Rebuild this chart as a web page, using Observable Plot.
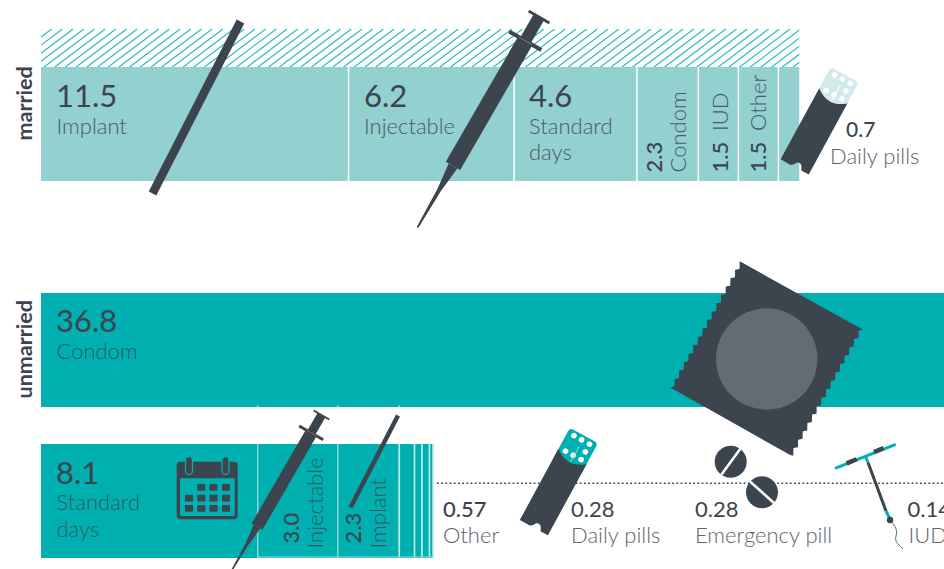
<!DOCTYPE html>
<html>
<head>
<meta charset="utf-8">
<style>html,body{margin:0;padding:0;background:#fff;overflow:hidden}svg{display:block;font-family:Lato,sans-serif}</style>
<script src="https://cdn.jsdelivr.net/npm/d3@7"></script>
<script src="https://cdn.jsdelivr.net/npm/@observablehq/plot@0.6"></script>
</head>
<body>
<div id="chart"></div>
<script>
// ---- data ----
const marriedMethods = ["Implant", "Injectable", "Standard days", "Condom", "IUD", "Other", "Daily pills"];
const marriedValues = [11.5, 6.2, 4.6, 2.3, 1.5, 1.5, 0.7];
const marriedLabels = ["11.5", "6.2", "4.6", "2.3", "1.5", "1.5", "0.7"];
const marriedTotal = 28.4;
const unmarriedMethods = ["Standard days", "Injectable", "Implant", "Other", "Daily pills", "Emergency pill", "IUD"];
const unmarriedValues = [8.1, 3.0, 2.3, 0.57, 0.28, 0.28, 0.14];
const unmarriedLabels = ["8.1", "3.0", "2.3", "0.57", "0.28", "0.28", "0.14"];
const condomValue = 36.8;

// ---- layout & style ----
const W = 944, H = 569, left = 41, pxPerUnit = 26.7;
const DARK = "#3c444e", PALE = "#93d0d0", TEAL = "#00afb0", HATCH = "#1fbabb";
const X = p => (p - left) / pxPerUnit;
const ROW = {hatch: [29, 67], married: [67, 181], condom: [293, 407], unmarried: [444, 558]};

function segments(methods, values, row) {
  let c = 0;
  return methods.map((m, i) => ({method: m, x1: c, x2: (c += values[i]), y1: ROW[row][0], y2: ROW[row][1]}));
}
const mSeg = segments(marriedMethods, marriedValues, "married");
const uSeg = segments(unmarriedMethods, unmarriedValues, "unmarried");

// text placement, values come from the arrays above
const bigNumbers = [
  {t: marriedLabels[0], x: 55.5, y: 106}, {t: marriedLabels[1], x: 363.5, y: 106}, {t: marriedLabels[2], x: 528.5, y: 106},
  {t: String(condomValue), x: 55.5, y: 331}, {t: unmarriedLabels[0], x: 55.5, y: 483}
];
const paleNames = [
  {t: "Implant", x: 56, y: 133}, {t: "Injectable", x: 363.5, y: 133}, {t: "Standard", x: 528.5, y: 133}, {t: "days", x: 528.5, y: 159.5}
];
const tealNames = [
  {t: "Condom", x: 56, y: 358}, {t: "Standard", x: 56, y: 509}, {t: "days", x: 56, y: 536}
];
const sideNumbersPale = [
  {t: marriedLabels[3], x: 661.5, y: 172}, {t: marriedLabels[4], x: 727.5, y: 172}, {t: marriedLabels[5], x: 765.5, y: 172}
];
const sideNamesPale = [
  {t: "Condom", x: 685, y: 172}, {t: "IUD", x: 727.5, y: 130.5}, {t: "Other", x: 765.5, y: 130.5}
];
const sideNumbersTeal = [{t: unmarriedLabels[1], x: 298.5, y: 543}, {t: unmarriedLabels[2], x: 360.5, y: 543}];
const sideNamesTeal = [{t: "Injectable", x: 322.5, y: 548}, {t: "Implant", x: 385, y: 548}];
const outNumbersStrong = [{t: unmarriedLabels[3], x: 442.5, y: 516}];
const outNumbers = [
  {t: unmarriedLabels[4], x: 570.5, y: 516},
  {t: unmarriedLabels[5], x: 694.5, y: 516}, {t: unmarriedLabels[6], x: 907, y: 516}
];
const outNames = [
  {t: marriedMethods[6], x: 829.5, y: 163.5}, {t: "Other", x: 442.5, y: 542}, {t: "Daily pills", x: 570.5, y: 542},
  {t: "Emergency pill", x: 694.5, y: 542}, {t: "IUD", x: 908, y: 542}
];

const txt = (list, o) => Plot.text(list, {x: d => X(d.x), y: "y", text: "t", textAnchor: "start", lineAnchor: "bottom", ...o});

// ---- decorative icons ----
function syringe(px, py, s) {
  return `<g transform="translate(${px},${py}) rotate(30) scale(${s})">
    <rect x="-12" y="-1.3" width="24" height="2.6" fill="${DARK}"/>
    <rect x="-6" y="0" width="12" height="28" fill="${DARK}"/>
    <path d="M-8.3,27 L8.3,27 L8.3,172 L-8.3,172Z" fill="${DARK}"/>
    <path d="M-5,172 L5,172 L2,200 L0.9,243 L-0.9,243 L-2,200Z" fill="${DARK}"/>
    <rect x="-18.5" y="25.5" width="37" height="4" fill="${DARK}"/>
    <line x1="-7.5" x2="7.5" y1="27.5" y2="27.5" stroke="#fff" stroke-opacity=".45" stroke-width=".6"/>
  </g>`;
}
function pillPack(px, py, blister, seam) {
  const holes = [[-8.7,-19],[0,-19],[9,-19],[9,-10.2],[-8.7,-1.4],[0,-1.4],[9,-1.4]];
  return `<g transform="translate(${px},${py}) rotate(28.5)">
    <rect x="-16" y="-24" width="32" height="38" rx="4" fill="${blister}"/>
    ${holes.map(h => `<circle cx="${h[0]}" cy="${h[1]}" r="2.8" fill="#fff"/>`).join("")}
    <line x1="1" x2="1" y1="-12" y2="6" stroke="${seam}" stroke-width="1"/>
    <path d="M-16,0 Q0,13 16,0 L16,81 L7.5,81 Q5,73 0,76 Q-3,82 -7,81 L-16,81 Z" fill="${DARK}"/>
  </g>`;
}
function condom() {
  const n = 15, hw = 70.5, hh = 72, d = 3.5, st = 2 * hh / n;
  const pts = [[-hw, -hh], [hw, -hh]];
  for (let i = 0; i < n; i++) {
    pts.push([hw - d, -hh + (i + .3) * st], [hw, -hh + (i + 1) * st]);
  }
  pts.push([hw - d, hh + 1], [-hw + 2, hh]);
  for (let i = n - 1; i >= 0; i--) {
    pts.push([-hw, -hh + (i + 1) * st], [-hw + d, -hh + (i + .7) * st]);
  }
  return `<g transform="translate(766.5,358.5) rotate(29)">
    <path d="M${pts.map(p => p.join(",")).join("L")}Z" fill="${DARK}"/>
  </g>
  <circle cx="766.7" cy="359" r="50.7" fill="#636b75"/>`;
}
function calendar() {
  const xs = [185, 197.3, 209.5, 222], ys = [484, 494.7, 505];
  let cells = "";
  ys.forEach((y, r) => xs.forEach((x, c) => {
    if (!(r === 0 && c === 0)) cells += `<rect x="${x}" y="${y}" width="8" height="6.7" rx=".6" fill="${DARK}"/>`;
  }));
  return `<rect x="176.7" y="461.7" width="61" height="57.6" rx="4" fill="${DARK}"/>
    <rect x="180" y="478.3" width="54.7" height="37.7" rx="1.5" fill="${TEAL}"/>
    ${cells}
    <rect x="185.5" y="456.5" width="7" height="18" rx="3.5" fill="${DARK}" stroke="${TEAL}" stroke-width="1.3"/>
    <rect x="222" y="456.5" width="7" height="18" rx="3.5" fill="${DARK}" stroke="${TEAL}" stroke-width="1.3"/>`;
}
function emergencyPills() {
  return `<circle cx="730.7" cy="461.7" r="16" fill="${DARK}"/>
    <line x1="721.5" y1="474.5" x2="740.5" y2="448.5" stroke="#fff" stroke-width="2.6"/>
    <circle cx="762" cy="492.3" r="16" fill="${DARK}"/>
    <line x1="750" y1="481.5" x2="774" y2="503" stroke="#fff" stroke-width="2.6"/>`;
}
function iud() {
  return `<line x1="835" y1="468.3" x2="895.7" y2="444.3" stroke="${TEAL}" stroke-width="3" />
    <line x1="846.7" y1="463.4" x2="856.7" y2="459.2" stroke="${DARK}" stroke-width="4.5"/>
    <line x1="874" y1="452" x2="883.5" y2="448.2" stroke="${DARK}" stroke-width="4.5"/>
    <line x1="865.7" y1="456.7" x2="868" y2="462.5" stroke="${TEAL}" stroke-width="3"/>
    <line x1="868" y1="462.5" x2="886" y2="511" stroke="${DARK}" stroke-width="3"/>
    <line x1="886" y1="511" x2="889.5" y2="518" stroke="${TEAL}" stroke-width="3"/>
    <circle cx="890" cy="520" r="3.2" fill="${DARK}"/>
    <path d="M890,520 C895,526 898,530 896,536 C894,543 900,545 903,549" fill="none" stroke="${DARK}" stroke-width=".8"/>`;
}
const svgMark = html => () => {
  const g = d3.create("svg:g");
  g.html(html);
  return g.node();
};

// hatching: individual vector lines stay crisper than a rotated pattern tile
function hatch() {
  const [y1, y2] = ROW.hatch, x2 = left + marriedTotal * pxPerUnit, step = 10.7, run = (y2 - y1) / Math.tan(37 * Math.PI / 180);
  let lines = "";
  for (let x = left - run; x < x2; x += step) {
    lines += `<line x1="${x}" y1="${y2}" x2="${x + run}" y2="${y1}"/>`;
  }
  return `<defs><clipPath id="hatchClip"><rect x="${left}" y="${y1}" width="${x2 - left}" height="${y2 - y1}"/></clipPath></defs>
    <g clip-path="url(#hatchClip)" stroke="${HATCH}" stroke-width="1.1">${lines}</g>`;
}

const chart = Plot.plot({
  width: W, height: H,
  margin: 0,
  x: {domain: [0, (W - left) / pxPerUnit], range: [left, W], axis: null},
  y: {domain: [0, H], range: [0, H], axis: null},
  marks: [
    svgMark(hatch()),
    // married row
    Plot.rect([0], {x1: 0, x2: marriedTotal, y1: ROW.married[0], y2: ROW.married[1], fill: PALE}),
    Plot.ruleX(mSeg, {x: "x2", y1: "y1", y2: "y2", stroke: "#fff", strokeWidth: 1.5, filter: d => d.method !== "Daily pills"}),
    // unmarried rows
    Plot.rect([0], {x1: 0, x2: condomValue, y1: ROW.condom[0], y2: ROW.condom[1], fill: TEAL}),
    Plot.rect(uSeg, {x1: "x1", x2: "x2", y1: "y1", y2: "y2", fill: TEAL}),
    // light separators: both sides and the foot of each small segment
    Plot.ruleX(uSeg.slice(0, 2), {x: "x2", y1: "y1", y2: d => d.y2 - 1, stroke: "#9fe0e0", strokeWidth: 1.2}),
    Plot.ruleX(uSeg.slice(2), {x: "x2", y1: "y1", y2: d => d.y2 - 1, stroke: "#c4eeee", strokeWidth: 1.6}),
    Plot.ruleX(uSeg.slice(0, 1), {x: "x2", y1: d => d.y2 - 1, y2: "y2", stroke: "#9fe0e0", strokeWidth: 1.2}),
    Plot.ruleY(uSeg.slice(1), {y: d => d.y2 - 1.5, x1: "x1", x2: "x2", stroke: "#9fe0e0", strokeWidth: 1}),
    Plot.ruleX(uSeg.slice(0, 3), {x: "x2", y1: ROW.condom[1] - 1.5, y2: ROW.condom[1], stroke: "#fff", strokeWidth: 1}),
    Plot.ruleY([482.7], {x1: X(437), x2: X(W), stroke: DARK, strokeWidth: 1.6, strokeDasharray: "1.8,2.4"}),
    // text
    txt(bigNumbers, {fontSize: 31, fill: DARK}),
    txt(paleNames, {fontSize: 22, fontWeight: 300, fill: "#4a5a62"}),
    txt(tealNames, {fontSize: 22, fontWeight: 300, fill: "#2f5a64"}),
    txt(sideNumbersPale, {fontSize: 22, fontWeight: 500, fill: DARK, rotate: -90}),
    txt(sideNamesPale, {fontSize: 22, fontWeight: 300, fill: "#4a5a62", rotate: -90}),
    txt(sideNumbersTeal, {fontSize: 22, fontWeight: 500, fill: DARK, rotate: -90}),
    txt(sideNamesTeal, {fontSize: 22, fontWeight: 300, fill: "#2f5a64", rotate: -90}),
    txt(outNumbersStrong, {fontSize: 22, fontWeight: 500, fill: DARK}),
    txt(outNumbers, {fontSize: 22, fill: DARK}),
    txt(outNames, {fontSize: 22, fontWeight: 300, fill: "#5e646c"}),
    txt([{t: marriedLabels[6], x: 845.5, y: 136}], {fontSize: 21, fontWeight: 500, fill: DARK}),
    // facet names
    txt([{t: "married", x: 31, y: 140}, {t: "unmarried", x: 31, y: 398}], {fontSize: 21.5, fontWeight: 700, fill: DARK, rotate: -90}),
    // icons
    Plot.link([0], {x1: X(240), y1: 21, x2: X(152), y2: 193, stroke: DARK, strokeWidth: 8.5}),
    Plot.link([0], {x1: X(397.5), y1: 415, x2: X(350), y2: 507, stroke: DARK, strokeWidth: 4.5}),
    svgMark(syringe(539, 17, 1) + syringe(321.5, 415, 0.75) + pillPack(833.3, 95.8, "#d2eaeb", "#fff") + pillPack(572.5, 456.5, TEAL, "#7fd8d8") + condom() + calendar() + emergencyPills() + iud())
  ]
});
document.getElementById("chart").append(chart);
</script>
</body>
</html>
